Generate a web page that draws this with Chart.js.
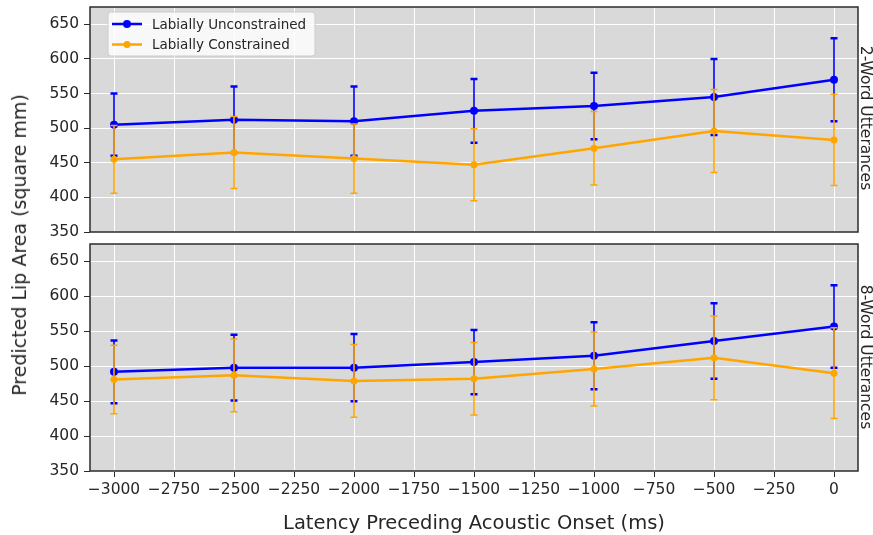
<!DOCTYPE html>
<html>
<head>
<meta charset="utf-8">
<script src="https://cdn.jsdelivr.net/npm/chart.js@4.4.0/dist/chart.umd.min.js"></script>
<style>
body { margin: 0; background: #fff; width: 873px; height: 535px; position: relative; overflow: hidden; }
canvas { position: absolute; left: 0; }
#top { top: 0; }
#bottom { top: 238px; }
.lbl { position: absolute; white-space: nowrap; color: #262626; font-family: "DejaVu Sans", sans-serif; }
#ytitle { left: 19px; top: 245px; transform: translate(-50%, -50%) rotate(-90deg); font-size: 19px; }
#xtitle { left: 474px; top: 522px; transform: translate(-50%, -50%); font-size: 19.5px; }
.facet { left: 866px; transform: translate(-50%, -50%) rotate(90deg); font-size: 15.5px; }
</style>
</head>
<body>
<canvas id="top" width="873" height="238"></canvas>
<canvas id="bottom" width="873" height="297"></canvas>
<div class="lbl" id="ytitle">Predicted Lip Area (square mm)</div>
<div class="lbl" id="xtitle">Latency Preceding Acoustic Onset (ms)</div>
<div class="lbl facet" style="top:118px">2-Word Utterances</div>
<div class="lbl facet" style="top:357px">8-Word Utterances</div>
<script>
// 数据
var latency = [-3000, -2500, -2000, -1500, -1000, -500, 0];
var xTicks = [-3000, -2750, -2500, -2250, -2000, -1750, -1500, -1250, -1000, -750, -500, -250, 0];
var yTicks = [350, 400, 450, 500, 550, 600, 650];

// 2-Word
var unc2Mean = [505, 512, 510, 525, 532, 545, 570];
var unc2Err = [45, 48, 50, 46, 48, 55, 60];
var con2Mean = [455, 465, 456, 447, 471, 496, 483];
var con2Err = [49, 52, 50, 52, 53, 60, 66];

// 8-Word
var unc8Mean = [492, 498, 498, 506, 515, 536, 557];
var unc8Err = [45, 47, 48, 46, 48, 54, 59];
var con8Mean = [481, 487, 479, 482, 496, 512, 490];
var con8Err = [49, 52, 52, 52, 53, 60, 65];

var tickFont = { family: '"DejaVu Sans", sans-serif', size: 15.5 };

function minus(v) {
    return v < 0 ? '\u2212' + Math.abs(v) : '' + v;
}

//误差线
var errorBars = {
    id: 'errorBars',
    beforeDatasetDraw: function (chart, args) {
        var ds = chart.data.datasets[args.index];
        if (!ds.errors) return;
        var ctx = chart.ctx, ys = chart.scales.y;
        ctx.save();
        ctx.strokeStyle = ds.borderColor;
        args.meta.data.forEach(function (pt, i) {
            var v = ds.data[i].y, e = ds.errors[i];
            var y1 = ys.getPixelForValue(v + e), y2 = ys.getPixelForValue(v - e);
            ctx.lineWidth = 1.6;
            ctx.beginPath();
            ctx.moveTo(pt.x, y1);
            ctx.lineTo(pt.x, y2);
            ctx.stroke();
            ctx.lineWidth = ds.capWidth;
            ctx.beginPath();
            ctx.moveTo(pt.x - 3.5, y1); ctx.lineTo(pt.x + 3.5, y1);
            ctx.moveTo(pt.x - 3.5, y2); ctx.lineTo(pt.x + 3.5, y2);
            ctx.stroke();
        });
        ctx.restore();
    }
};

//背景、边框、图例
var panel = {
    id: 'panel',
    beforeDraw: function (chart) {
        var a = chart.chartArea, ctx = chart.ctx;
        ctx.save();
        ctx.fillStyle = '#d9d9d9';
        ctx.fillRect(a.left, a.top, a.right - a.left, a.bottom - a.top);
        ctx.restore();
    },
    afterDraw: function (chart) {
        var a = chart.chartArea, ctx = chart.ctx;
        ctx.save();
        ctx.strokeStyle = '#2b2b2b';
        ctx.lineWidth = 1.5;
        ctx.strokeRect(a.left, a.top, a.right - a.left, a.bottom - a.top);
        if (chart.options.plugins.panel.legend) {
            var x = a.left + 18, y = a.top + 5;
            ctx.fillStyle = 'rgba(255,255,255,0.8)';
            ctx.strokeStyle = '#cccccc';
            ctx.lineWidth = 1;
            ctx.beginPath();
            ctx.roundRect(x, y, 207, 44, 3);
            ctx.fill();
            ctx.stroke();
            ctx.font = '13.5px "DejaVu Sans", sans-serif';
            ctx.textBaseline = 'middle';
            chart.data.datasets.forEach(function (ds, i) {
                var ly = y + 12 + i * 20.5;
                ctx.strokeStyle = ds.borderColor;
                ctx.lineWidth = 2.5;
                ctx.beginPath();
                ctx.moveTo(x + 4, ly);
                ctx.lineTo(x + 34, ly);
                ctx.stroke();
                ctx.fillStyle = ds.borderColor;
                ctx.beginPath();
                ctx.arc(x + 19, ly, ds.pointRadius, 0, Math.PI * 2);
                ctx.fill();
                ctx.fillStyle = '#262626';
                ctx.fillText(ds.label, x + 44, ly + 1);
            });
        }
        ctx.restore();
    }
};

function makeChart(id, uncMean, uncErr, conMean, conErr, isBottom) {
    var ctx = document.getElementById(id).getContext('2d');
    return new Chart(ctx, {
        type: 'line',
        data: {
            datasets: [
                {
                    label: 'Labially Unconstrained',
                    data: latency.map(function (x, i) { return { x: x, y: uncMean[i] }; }),
                    errors: uncErr,
                    capWidth: 2.5,
                    borderColor: '#0000ff',
                    backgroundColor: '#0000ff',
                    borderWidth: 2.5,
                    pointRadius: 4,
                    pointBorderWidth: 0,
                    tension: 0,
                    order: 2
                },
                {
                    label: 'Labially Constrained',
                    data: latency.map(function (x, i) { return { x: x, y: conMean[i] }; }),
                    errors: conErr,
                    capWidth: 1.5,
                    borderColor: '#ffa500',
                    backgroundColor: '#ffa500',
                    borderWidth: 2.5,
                    pointRadius: 3.5,
                    pointBorderWidth: 0,
                    tension: 0,
                    order: 1
                }
            ]
        },
        options: {
            responsive: false,
            animation: false,
            devicePixelRatio: 1,
            layout: { padding: { left: 0, right: 15, top: isBottom ? 6 : 7, bottom: isBottom ? 0 : 6 } },
            plugins: {
                legend: { display: false },
                tooltip: { enabled: false },
                panel: { legend: !isBottom }
            },
            scales: {
                x: {
                    type: 'linear',
                    min: -3100,
                    max: 100,
                    afterBuildTicks: function (s) { s.ticks = xTicks.map(function (v) { return { value: v }; }); },
                    afterFit: function (s) {
                        s.height = isBottom ? 64 : 0;
                        s.paddingLeft = 0;
                        s.paddingRight = 0;
                    },
                    grid: { color: '#ffffff', lineWidth: 1, tickColor: '#2b2b2b', tickLength: 6, drawTicks: isBottom },
                    border: { display: false },
                    ticks: { display: isBottom, font: tickFont, color: '#262626', padding: 4, maxRotation: 0, autoSkip: false, callback: minus }
                },
                y: {
                    min: 350,
                    max: 675,
                    afterBuildTicks: function (s) { s.ticks = yTicks.map(function (v) { return { value: v }; }); },
                    afterFit: function (s) {
                        s.width = 90;
                        s.paddingTop = 0;
                        s.paddingBottom = 0;
                    },
                    grid: { color: '#ffffff', lineWidth: 1, tickColor: '#2b2b2b', tickLength: 6 },
                    border: { display: false },
                    ticks: { font: tickFont, color: '#262626', padding: 5, callback: minus }
                }
            }
        },
        plugins: [panel, errorBars]
    });
}

makeChart('top', unc2Mean, unc2Err, con2Mean, con2Err, false);
makeChart('bottom', unc8Mean, unc8Err, con8Mean, con8Err, true);
</script>
</body>
</html>
